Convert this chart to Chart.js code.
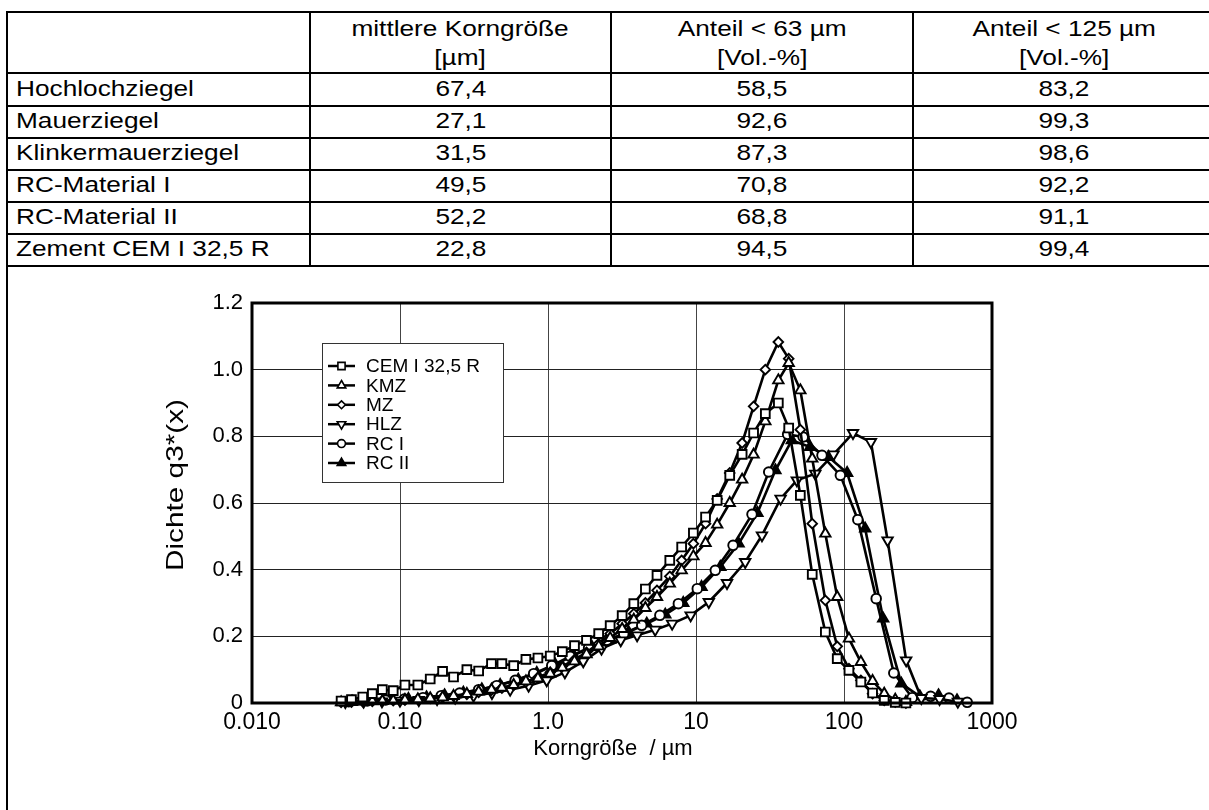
<!DOCTYPE html>
<html>
<head>
<meta charset="utf-8">
<script src="https://cdn.jsdelivr.net/npm/chart.js@4.4.1/dist/chart.umd.min.js"></script>
<style>
html,body{margin:0;padding:0;background:#fff;width:1209px;height:810px;overflow:hidden;}
body{position:relative;font-family:'Liberation Sans',Arial,sans-serif;color:#000;}
.hl{position:absolute;height:2px;background:#000;}
.vl{position:absolute;width:2px;background:#000;}
.cell{position:absolute;display:flex;align-items:center;justify-content:center;font-size:21.5px;line-height:1;box-sizing:border-box;}
.cell.left{justify-content:flex-start;padding-left:8px;}
.cell span{display:inline-block;transform:scaleX(1.22);transform-origin:center center;white-space:nowrap;text-align:center;}
.cell.left span{transform-origin:left center;}
.cell.head span{line-height:29.5px;padding-top:3px;}
#chartWrap{position:absolute;left:0;top:266px;width:1209px;height:544px;}
</style>
</head>
<body>
<div id="tbl"></div>
<div id="chartWrap"><canvas id="c" width="1209" height="544"></canvas></div>
<script>
// ---------- table data ----------
const materials = ['Hochlochziegel','Mauerziegel','Klinkermauerziegel','RC-Material I','RC-Material II','Zement CEM I 32,5 R'];
const meanSize  = [67.4, 27.1, 31.5, 49.5, 52.2, 22.8];
const share63   = [58.5, 92.6, 87.3, 70.8, 68.8, 94.5];
const share125  = [83.2, 99.3, 98.6, 92.2, 91.1, 99.4];
const headerTop = ['', 'mittlere Korngröße', 'Anteil < 63 µm', 'Anteil < 125 µm'];
const headerBot = ['', '[µm]', '[Vol.-%]', '[Vol.-%]'];

// ---------- chart data ----------
const xTickValues = [0.01, 0.1, 1, 10, 100, 1000];
const xTickLabels = ['0.010', '0.10', '1.0', '10', '100', '1000'];
const yTickValues = [0, 0.2, 0.4, 0.6, 0.8, 1.0, 1.2];
const yTickLabels = ['0', '0.2', '0.4', '0.6', '0.8', '1.0', '1.2'];
const xTitle = 'Korngröße  / µm';
const yTitle = 'Dichte q3*(x)';
const seriesLabels = ['CEM I 32,5 R', 'KMZ', 'MZ', 'HLZ', 'RC I', 'RC II'];

const sizesA = [0.040,0.047,0.056,0.065,0.076,0.090,0.108,0.132,0.160,0.194,0.230,0.283,0.340,0.415,0.488,0.586,0.709,0.855,1.035,1.25,1.51,1.82,2.20,2.63,3.17,3.80,4.55,5.45,6.65,8.00,9.60,11.6,13.9,16.9,20.5,24.5,29.4,36.0,42.3,50.7,61.0,74.8,90.0,108,130,156,187,222,262];
const cemY = [0.006,0.010,0.018,0.028,0.040,0.037,0.054,0.054,0.072,0.095,0.078,0.100,0.096,0.118,0.118,0.112,0.131,0.135,0.141,0.154,0.172,0.188,0.208,0.232,0.262,0.298,0.342,0.383,0.428,0.468,0.510,0.558,0.608,0.683,0.746,0.810,0.868,0.900,0.825,0.623,0.386,0.213,0.133,0.098,0.063,0.030,0.008,0.002,0.000];
const mzY  = [0.002,0.003,0.004,0.005,0.006,0.007,0.009,0.011,0.014,0.017,0.021,0.026,0.032,0.039,0.045,0.053,0.063,0.077,0.092,0.110,0.130,0.152,0.178,0.208,0.238,0.268,0.300,0.338,0.380,0.428,0.478,0.538,0.612,0.690,0.780,0.890,1.000,1.083,1.033,0.820,0.538,0.308,0.170,0.103,0.068,0.028,0.008,0.003,0.000];
const kmzY = [0.002,0.003,0.004,0.005,0.006,0.007,0.009,0.011,0.014,0.017,0.021,0.027,0.034,0.040,0.046,0.054,0.065,0.074,0.088,0.106,0.125,0.146,0.170,0.195,0.222,0.250,0.285,0.318,0.358,0.398,0.440,0.480,0.535,0.600,0.670,0.745,0.845,0.968,1.020,0.938,0.733,0.508,0.318,0.193,0.123,0.066,0.028,0.010,0.003];

const hlzX = [0.0427,0.0568,0.0755,0.100,0.134,0.178,0.236,0.314,0.418,0.555,0.74,0.98,1.30,1.73,2.30,3.10,4.00,5.30,6.90,9.20,12.2,16.2,21.5,27.9,37.3,48.0,64.0,85.0,115,152,197,263,333,442,588];
const hlzY = [0.003,0.004,0.005,0.007,0.009,0.012,0.016,0.022,0.030,0.040,0.052,0.068,0.092,0.125,0.163,0.188,0.203,0.220,0.238,0.263,0.303,0.360,0.423,0.503,0.613,0.668,0.688,0.746,0.810,0.783,0.488,0.128,0.015,0.012,0.004];

const rc1X = [0.045,0.060,0.080,0.107,0.143,0.190,0.253,0.340,0.450,0.600,0.800,1.06,1.41,1.88,2.50,3.25,4.30,5.70,7.60,10.2,13.5,17.8,23.9,31.0,41.6,53.0,71.0,94.5,124,165,217,289,385,512,680];
const rc1Y = [0.004,0.006,0.009,0.012,0.016,0.022,0.030,0.040,0.052,0.068,0.088,0.112,0.140,0.165,0.188,0.208,0.233,0.263,0.298,0.343,0.398,0.473,0.566,0.693,0.806,0.798,0.743,0.683,0.550,0.313,0.090,0.016,0.020,0.015,0.002];

const rc2X = [0.048,0.064,0.085,0.114,0.151,0.200,0.268,0.357,0.475,0.630,0.840,1.12,1.49,1.98,2.63,3.50,4.65,6.20,8.20,10.9,14.6,19.4,26.0,34.4,44.4,59.0,78.8,105,139,184,244,325,435,580];
const rc2Y = [0.004,0.006,0.009,0.012,0.017,0.023,0.031,0.041,0.054,0.070,0.090,0.115,0.143,0.168,0.190,0.213,0.238,0.265,0.300,0.348,0.408,0.478,0.570,0.698,0.788,0.768,0.738,0.690,0.523,0.253,0.058,0.020,0.023,0.008];

// ---------- build table ----------
(function(){
  const tbl = document.getElementById('tbl');
  const colEdges = [7, 310, 611, 913, 1215];
  const rowEdges = [12, 73, 106, 138, 170, 202, 234, 266];
  const fmt = v => v.toFixed(1).replace('.', ',');
  function add(cls, style, html){
    const d = document.createElement('div'); d.className = cls;
    Object.assign(d.style, style); if (html !== undefined) d.innerHTML = html;
    tbl.appendChild(d); return d;
  }
  rowEdges.forEach(y => add('hl', {left:'6px', width:'1209px', top:(y-1)+'px'}));
  add('vl', {left:'6px', top:'11px', height:'800px'});
  colEdges.slice(1,4).forEach(x => add('vl', {left:(x-1)+'px', top:'11px', height:'256px'}));
  const esc = s => s.replace(/&/g,'&amp;').replace(/</g,'&lt;');
  for (let c = 1; c < 4; c++) {
    add('cell head', {left:(colEdges[c]+1)+'px', width:(colEdges[c+1]-colEdges[c]-2)+'px', top:(rowEdges[0]+1)+'px', height:(rowEdges[1]-rowEdges[0]-2)+'px'},
      '<span>' + esc(headerTop[c]) + '<br>' + esc(headerBot[c]) + '</span>');
  }
  for (let r = 0; r < materials.length; r++) {
    const vals = [materials[r], fmt(meanSize[r]), fmt(share63[r]), fmt(share125[r])];
    for (let c = 0; c < 4; c++) {
      add('cell' + (c === 0 ? ' left' : ''), {left:(colEdges[c]+1)+'px', width:(colEdges[c+1]-colEdges[c]-2)+'px', top:(rowEdges[r+1]+1)+'px', height:(rowEdges[r+2]-rowEdges[r+1]-2)+'px'},
        '<span>' + esc(vals[c]) + '</span>');
    }
  }
})();

// ---------- chart ----------
const FONT = "'Liberation Sans', Arial, sans-serif";
const pts = (xs, ys) => xs.map((x, i) => ({x: x, y: ys[i]}));
const styles = [
  {style:'rect', r:6.2, fill:'#fff', rot:0},
  {style:'triangle', r:6, fill:'#fff', rot:0},
  {style:'rectRot', r:4.8, fill:'#fff', rot:0},
  {style:'triangle', r:6, fill:'#fff', rot:180},
  {style:'circle', r:4.8, fill:'#fff', rot:0},
  {style:'triangle', r:6, fill:'#000', rot:0}
];
const seriesData = [pts(sizesA, cemY), pts(sizesA, kmzY), pts(sizesA, mzY), pts(hlzX, hlzY), pts(rc1X, rc1Y), pts(rc2X, rc2Y)];

const datasets = seriesLabels.map((lab, i) => ({
  label: lab,
  data: seriesData[i],
  borderColor: '#000',
  borderWidth: 2.6,
  pointStyle: styles[i].style,
  pointRadius: styles[i].r,
  pointRotation: styles[i].rot,
  pointBackgroundColor: styles[i].fill,
  pointBorderColor: '#000',
  pointBorderWidth: 1.9,
  tension: 0,
  fill: false,
  clip: false
}));

function drawMarker(ctx, st, x, y) {
  ctx.save();
  ctx.fillStyle = st.fill; ctx.strokeStyle = '#000'; ctx.lineWidth = 1.6;
  if (window.Chart && Chart.helpers && Chart.helpers.drawPoint) {
    Chart.helpers.drawPoint(ctx, {pointStyle: st.style, radius: st.r, rotation: st.rot, borderWidth: 1.6}, x, y);
  }
  ctx.restore();
}

const chartDeco = {
  id: 'chartDeco',
  afterDatasetsDraw(chart) {
    const ctx = chart.ctx;
    const L = 322, T = 77, R = 503, B = 216;
    ctx.save();
    ctx.fillStyle = '#fff';
    ctx.fillRect(L, T, R - L, B - T);
    ctx.strokeStyle = '#333'; ctx.lineWidth = 1;
    ctx.strokeRect(L + 0.5, T + 0.5, R - L, B - T);
    ctx.font = '19px ' + FONT;
    ctx.fillStyle = '#000'; ctx.textAlign = 'left'; ctx.textBaseline = 'middle';
    for (let i = 0; i < seriesLabels.length; i++) {
      const y = T + 23 + i * 19.4;
      ctx.strokeStyle = '#000'; ctx.lineWidth = 2.5;
      ctx.beginPath(); ctx.moveTo(328, y); ctx.lineTo(355, y); ctx.stroke();
      const st = Object.assign({}, styles[i], {r: styles[i].r * 0.82});
      drawMarker(ctx, st, 341.5, y);
      ctx.fillStyle = '#000';
      ctx.fillText(seriesLabels[i], 366, y + 1);
    }
    ctx.restore();
  },
  afterDraw(chart) {
    const ctx = chart.ctx, a = chart.chartArea;
    ctx.save();
    ctx.strokeStyle = '#000'; ctx.lineWidth = 3;
    ctx.strokeRect(a.left, a.top, a.right - a.left, a.bottom - a.top);
    ctx.fillStyle = '#000'; ctx.textAlign = 'center'; ctx.textBaseline = 'middle';
    ctx.font = '22px ' + FONT;
    ctx.fillText(xTitle, 613, 483);
    ctx.translate(176, 219);
    ctx.rotate(-Math.PI / 2);
    ctx.scale(1.24, 1);
    ctx.font = '24px ' + FONT;
    ctx.fillText(yTitle, 0, 0);
    ctx.restore();
  }
};

new Chart(document.getElementById('c'), {
  type: 'line',
  data: { datasets: datasets },
  plugins: [chartDeco],
  options: {
    responsive: false,
    animation: false,
    events: [],
    layout: { padding: { left: 0, right: 217, top: 37, bottom: 0 } },
    plugins: { legend: { display: false }, tooltip: { enabled: false }, title: { display: false } },
    scales: {
      x: {
        type: 'logarithmic',
        min: 0.01, max: 1000,
        afterFit: s => { s.height = 107; },
        afterBuildTicks: s => { s.ticks = xTickValues.map(v => ({value: v})); },
        ticks: {
          autoSkip: false, maxRotation: 0, minRotation: 0, padding: 6, color: '#000',
          font: { family: FONT, size: 23 },
          callback: v => { const i = xTickValues.findIndex(t => Math.abs(Math.log10(t) - Math.log10(v)) < 1e-6); return i >= 0 ? xTickLabels[i] : ''; }
        },
        grid: { color: '#444', lineWidth: 1, drawTicks: false },
        border: { display: false },
        title: { display: false, text: xTitle }
      },
      y: {
        type: 'linear',
        min: 0, max: 1.2,
        afterFit: s => { s.width = 252; },
        afterBuildTicks: s => { s.ticks = yTickValues.map(v => ({value: v})); },
        ticks: {
          padding: 9, color: '#000',
          font: { family: FONT, size: 22 },
          callback: v => { const i = yTickValues.findIndex(t => Math.abs(t - v) < 1e-6); return i >= 0 ? yTickLabels[i] : ''; }
        },
        grid: { color: '#222', lineWidth: 1, drawTicks: false },
        border: { display: false },
        title: { display: false, text: yTitle }
      }
    }
  }
});
</script>
</body>
</html>
